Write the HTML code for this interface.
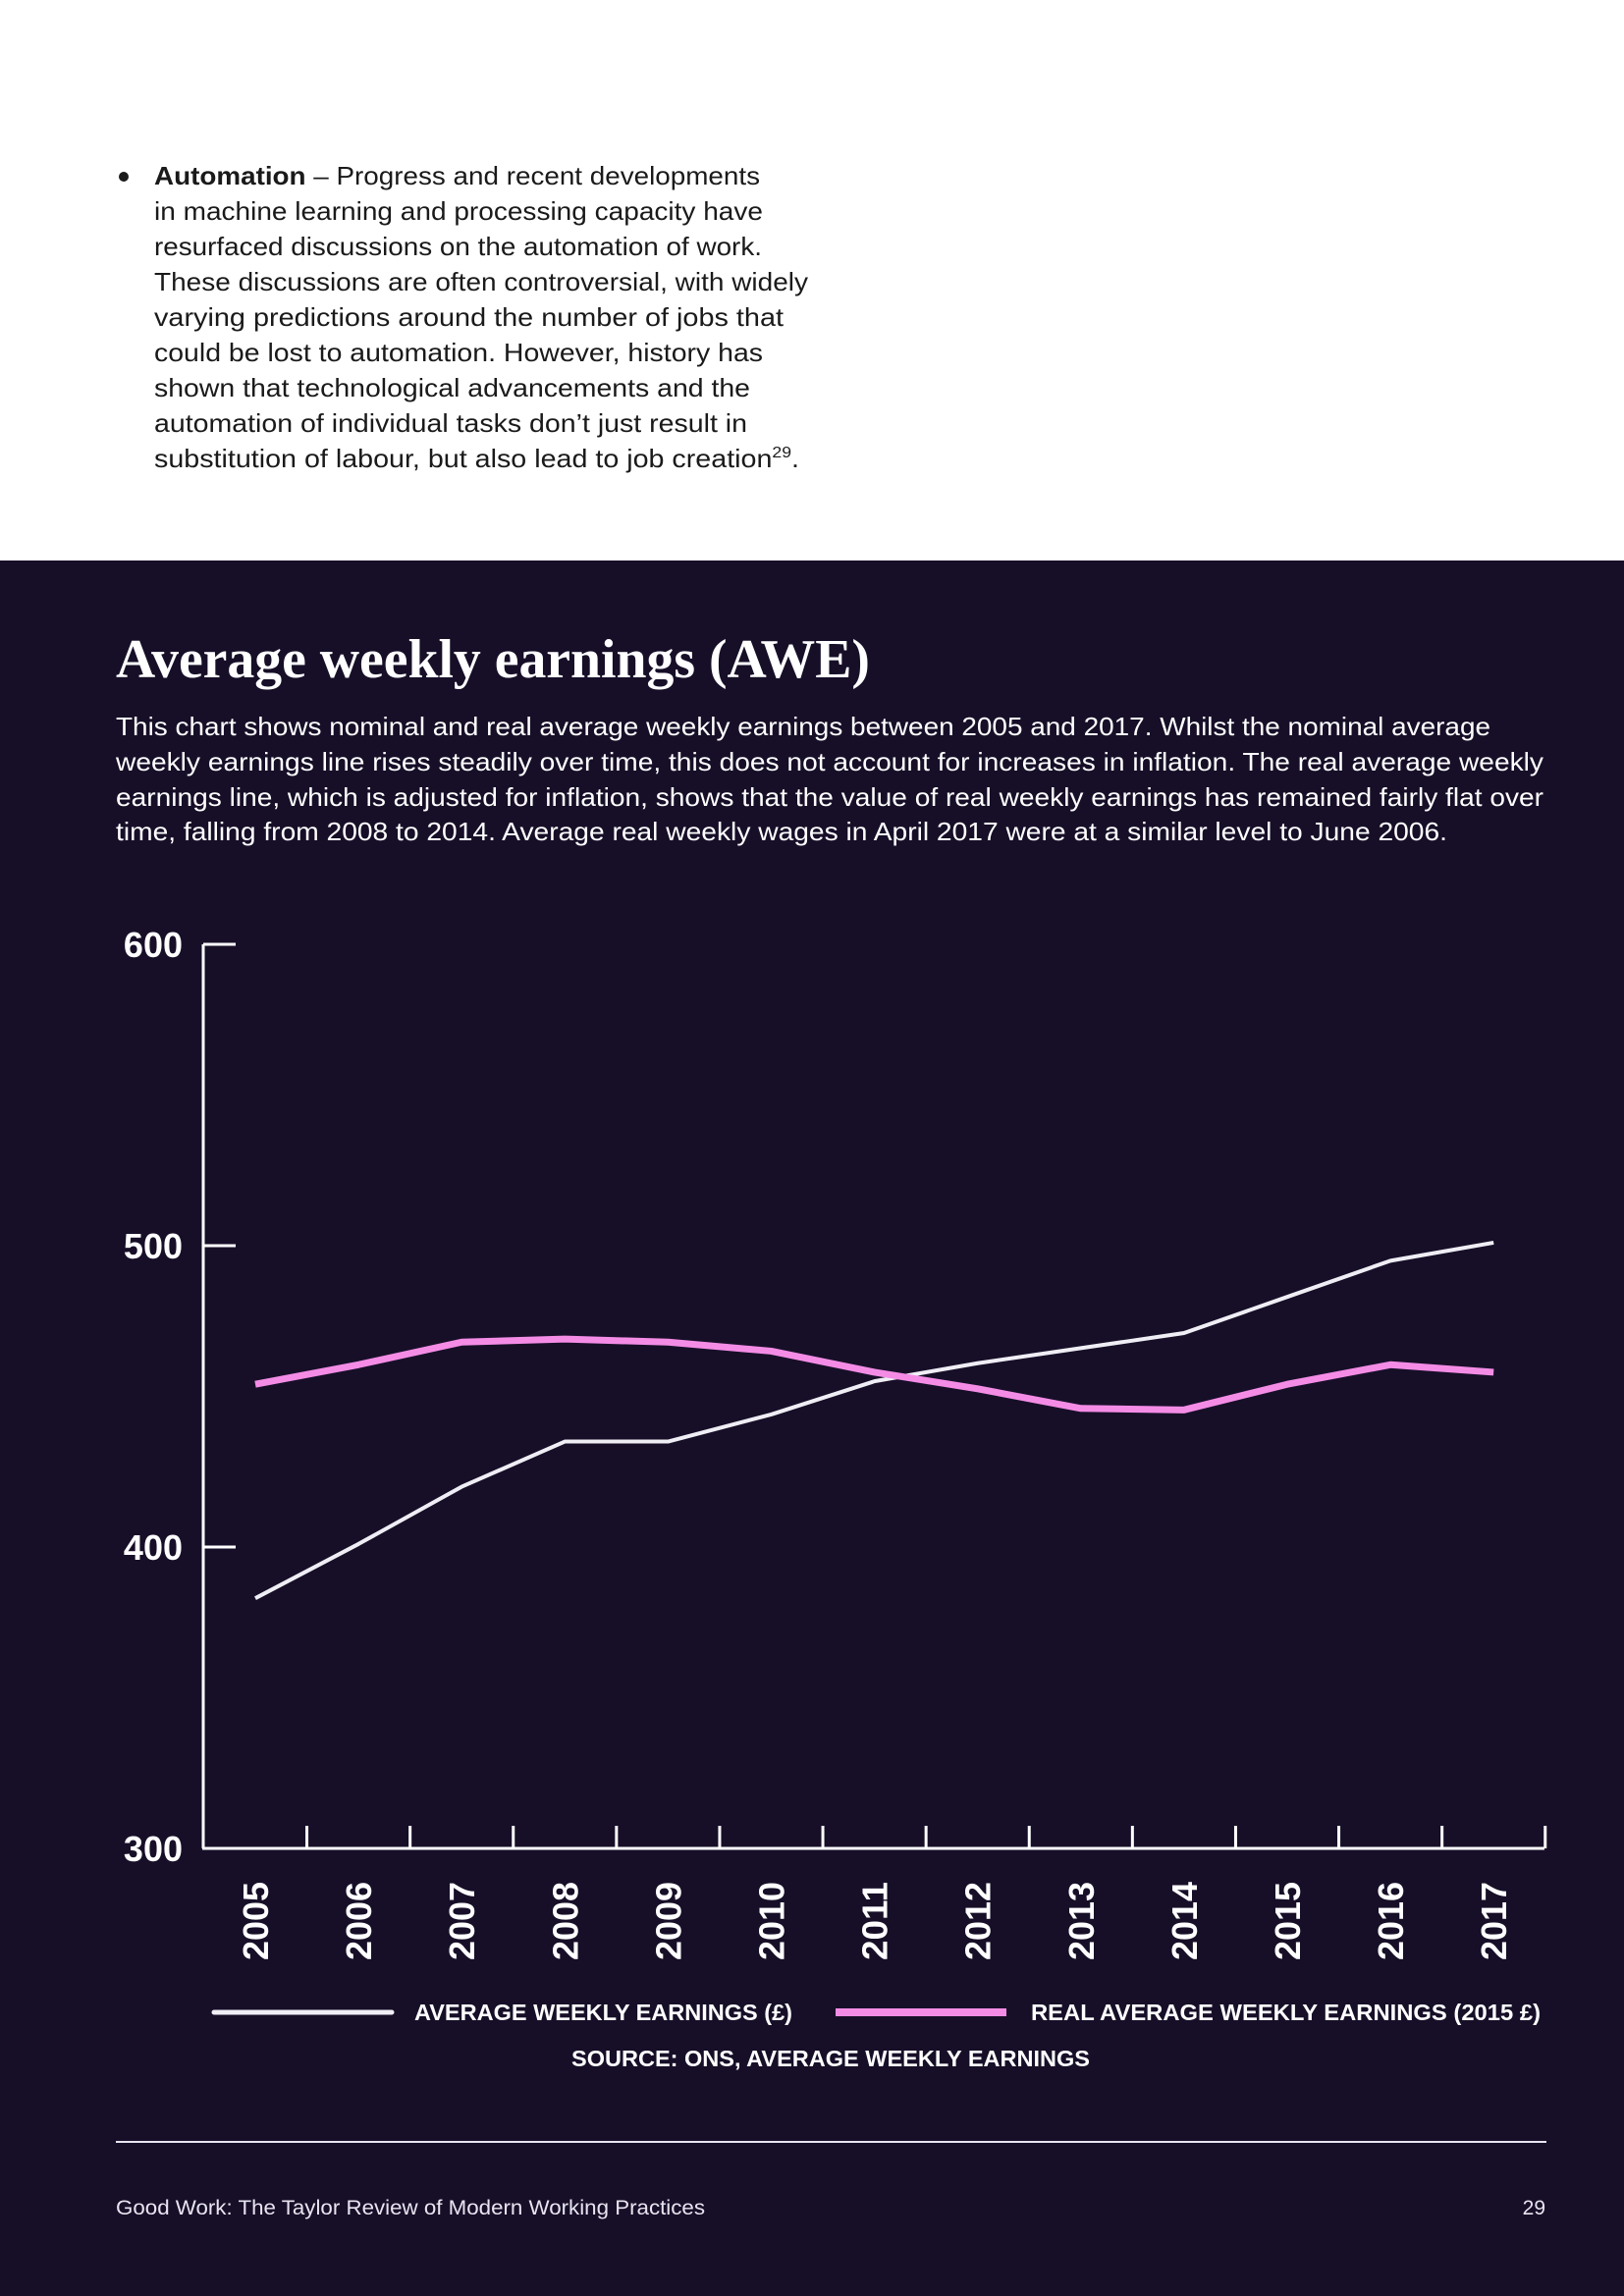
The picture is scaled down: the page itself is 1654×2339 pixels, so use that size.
<!DOCTYPE html>
<html><head><meta charset="utf-8"><style>
html,body{margin:0;padding:0;background:#fff}
svg{display:block}
text{font-family:"Liberation Sans",sans-serif}
</style></head><body>
<svg id="page" width="1654" height="2339" viewBox="0 0 1654 2339" xmlns="http://www.w3.org/2000/svg">
<rect x="0" y="0" width="1654" height="571" fill="#ffffff"/>
<rect x="0" y="571" width="1654" height="1768" fill="#170f28"/>
<g fill="#1a1a1a" font-size="26">
<circle cx="126" cy="180" r="5" fill="#1a1a1a"/>
<text x="157" y="188" textLength="617" lengthAdjust="spacingAndGlyphs"><tspan font-weight="bold">Automation</tspan> – Progress and recent developments</text>
<text x="157" y="224" textLength="620" lengthAdjust="spacingAndGlyphs">in machine learning and processing capacity have</text>
<text x="157" y="260" textLength="619" lengthAdjust="spacingAndGlyphs">resurfaced discussions on the automation of work.</text>
<text x="157" y="296" textLength="666" lengthAdjust="spacingAndGlyphs">These discussions are often controversial, with widely</text>
<text x="157" y="332" textLength="641" lengthAdjust="spacingAndGlyphs">varying predictions around the number of jobs that</text>
<text x="157" y="368" textLength="620" lengthAdjust="spacingAndGlyphs">could be lost to automation. However, history has</text>
<text x="157" y="404" textLength="607" lengthAdjust="spacingAndGlyphs">shown that technological advancements and the</text>
<text x="157" y="440" textLength="604" lengthAdjust="spacingAndGlyphs">automation of individual tasks don’t just result in</text>
<text x="157" y="476" textLength="657" lengthAdjust="spacingAndGlyphs">substitution of labour, but also lead to job creation<tspan font-size="16" dy="-10">29</tspan><tspan dy="10">.</tspan></text>
</g>
<text x="118" y="690" font-family="Liberation Serif, serif" style="font-family:'Liberation Serif',serif" font-weight="bold" font-size="56" fill="#ffffff" textLength="768" lengthAdjust="spacingAndGlyphs">Average weekly earnings (AWE)</text>
<g fill="#ffffff" font-size="26">
<text x="118" y="749" textLength="1400" lengthAdjust="spacingAndGlyphs">This chart shows nominal and real average weekly earnings between 2005 and 2017. Whilst the nominal average</text>
<text x="118" y="785" textLength="1454" lengthAdjust="spacingAndGlyphs">weekly earnings line rises steadily over time, this does not account for increases in inflation. The real average weekly</text>
<text x="118" y="821" textLength="1454" lengthAdjust="spacingAndGlyphs">earnings line, which is adjusted for inflation, shows that the value of real weekly earnings has remained fairly flat over</text>
<text x="118" y="856" textLength="1356" lengthAdjust="spacingAndGlyphs">time, falling from 2008 to 2014. Average real weekly wages in April 2017 were at a similar level to June 2006.</text>
</g>
<g id="chart"></g>
<g font-size="23" font-weight="bold" fill="#ffffff">
<g>
<line x1="218" y1="2050" x2="399" y2="2050" stroke="#f0eef5" stroke-width="5" stroke-linecap="round"/>
<text x="422" y="2058" textLength="385" lengthAdjust="spacingAndGlyphs">AVERAGE WEEKLY EARNINGS (£)</text>
</g>
<g>
<line x1="851" y1="2050" x2="1025" y2="2050" stroke="#f48ce6" stroke-width="8"/>
<text x="1050" y="2058" textLength="519" lengthAdjust="spacingAndGlyphs">REAL AVERAGE WEEKLY EARNINGS (2015 £)</text>
</g>
</g>
<text x="582" y="2105" font-size="23" font-weight="bold" fill="#ffffff" textLength="528" lengthAdjust="spacingAndGlyphs">SOURCE: ONS, AVERAGE WEEKLY EARNINGS</text>
<line x1="118" y1="2182" x2="1575" y2="2182" stroke="#e8e4f0" stroke-width="2"/>
<text x="118" y="2256" font-size="21" fill="#e8e4f0" textLength="600" lengthAdjust="spacingAndGlyphs">Good Work: The Taylor Review of Modern Working Practices</text>
<text x="1574" y="2256" font-size="21" fill="#e8e4f0" text-anchor="end">29</text>
</svg>
<script>
const years = ["2005","2006","2007","2008","2009","2010","2011","2012","2013","2014","2015","2016","2017"];
const nominalAwe = [383,401,420,435,435,444,455,461,466,471,483,495,501];
const realAwe = [454,460.5,468,469,468,465,458,452.5,446,445.5,454,460.5,458];
const yTicks = [300,400,500,600];

const NS = "http://www.w3.org/2000/svg";
const chart = document.getElementById("chart");
const x0 = 260, xStep = 105.1, yBase = 1883, yPer = 3.07;
function xScale(i){ return x0 + xStep * i; }
function yScale(v){ return yBase - (v - 300) * yPer; }
function mk(tag, attrs){ const e = document.createElementNS(NS, tag); for (const k in attrs) e.setAttribute(k, attrs[k]); chart.appendChild(e); return e; }

const yAxis = mk("line", {x1:207, y1:yScale(600), x2:207, y2:yBase, stroke:"#ffffff", "stroke-width":3});


const xAxis = mk("line", {x1:206, y1:yBase, x2:1573, y2:yBase, stroke:"#ffffff", "stroke-width":3});



yTicks.forEach(v => {
  const y = yScale(v);
  const t = mk("line", {x1:207, y1:y, x2:240, y2:y, stroke:"#ffffff", "stroke-width":3});
  
  
  const l = mk("text", {x:186, y:y+13, "text-anchor":"end", "font-size":36, "font-weight":"bold", fill:"#ffffff"});
  l.textContent = v;
  
  
});

years.forEach((yr, i) => {
  const tx = xScale(i) + xStep / 2;
  const t = mk("line", {x1:tx, y1:yBase - 23, x2:tx, y2:yBase, stroke:"#ffffff", "stroke-width":3});
  
  
  const cx = xScale(i) + 13;
  const l = mk("text", {x:cx, y:1997, transform:`rotate(-90 ${cx} 1997)`, "font-size":36, "font-weight":"bold", fill:"#ffffff", textLength:80, lengthAdjust:"spacingAndGlyphs"});
  l.textContent = yr;
  
  
});

const nomPts = nominalAwe.map((v,i) => xScale(i) + "," + yScale(v)).join(" ");
const nom = mk("polyline", {points:nomPts, fill:"none", stroke:"#f0eef5", "stroke-width":4, "stroke-linejoin":"round"});


const realPts = realAwe.map((v,i) => xScale(i) + "," + yScale(v)).join(" ");
const real = mk("polyline", {points:realPts, fill:"none", stroke:"#f48ce6", "stroke-width":7, "stroke-linejoin":"round"});


</script>
</body></html>
